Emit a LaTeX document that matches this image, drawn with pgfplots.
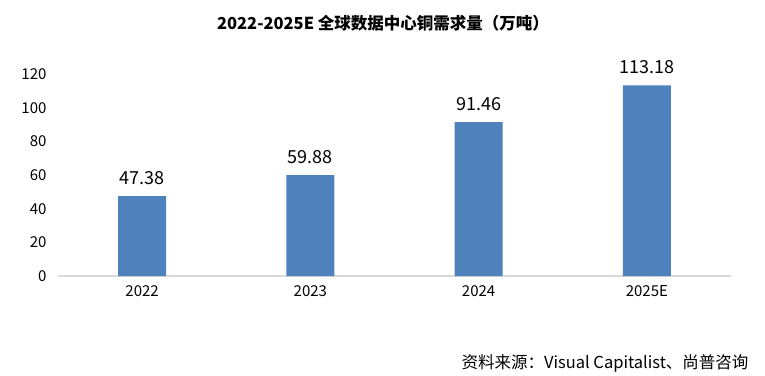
\documentclass[border=0pt]{standalone}
\usepackage{pgfplots}
\pgfplotsset{compat=1.18}
\usepackage{fontspec}
\setmainfont{Noto Sans CJK SC}
\definecolor{barblue}{HTML}{4F81BD}
\definecolor{axgray}{HTML}{D9D9D9}
\begin{document}
\begin{tikzpicture}[x=1pt,y=1pt]
\path[use as bounding box] (0,0) rectangle (765,375);
\begin{axis}[
  at={(58pt,99pt)}, anchor=south west,
  width=673pt, height=202pt, scale only axis,
  xmin=-0.5, xmax=3.5, ymin=0, ymax=120,
  xtick=data, xticklabels={2022,2023,2024,2025E},
  ytick={0,20,...,120},
  axis line style={draw=none},
  axis x line*=bottom, axis y line*=left,
  x axis line style={draw=axgray, line width=1.2pt},
  major tick length=0pt,
  tick label style={font=\fontsize{15}{18}\selectfont},
  /pgf/number format/assume math mode=true,
  yticklabel style={xshift=-8pt},
  xticklabel style={yshift=-6pt},
  ybar, bar width=48pt,
  nodes near coords,
  nodes near coords style={font=\fontsize{18}{20}\selectfont, yshift=8pt, /pgf/number format/.cd, fixed, fixed zerofill, precision=2, assume math mode=true},
  clip=false,
]
\addplot[fill=barblue, draw=none] coordinates {(0,47.38) (1,59.88) (2,91.46) (3,113.18)};
\end{axis}
\node[font=\bfseries\fontsize{16.5}{18}\selectfont] at (383,352) {2022-2025E 全球数据中心铜需求量（万吨）};
\node[anchor=base east, font=\fontsize{16.5}{18}\selectfont] at (752,7) {资料来源：Visual Capitalist、尚普咨询};
\end{tikzpicture}
\end{document}
